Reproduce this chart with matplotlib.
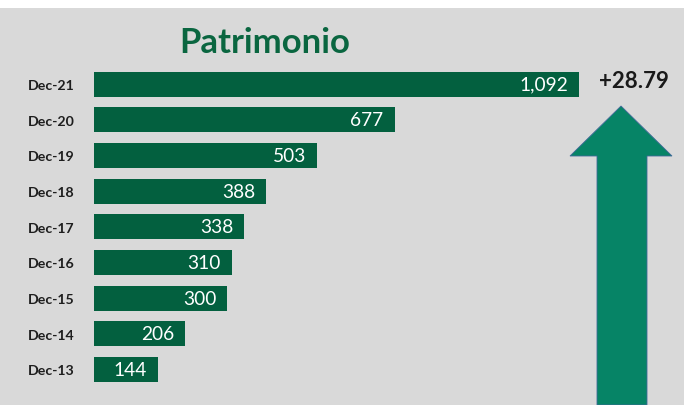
import matplotlib
matplotlib.use('Agg')
import matplotlib.pyplot as plt
import numpy as np
from matplotlib.patches import Rectangle, Polygon

plt.rcParams['font.family'] = ['Lato', 'DejaVu Sans']

# data (top to bottom)
periods = ["Dec-21", "Dec-20", "Dec-19", "Dec-18", "Dec-17", "Dec-16", "Dec-15", "Dec-14", "Dec-13"]
values = [1092, 677, 503, 388, 338, 310, 300, 206, 144]
growth_label = "+28.79"
title = "Patrimonio"

BG = '#d9d9d9'
BAR = '#03603f'
ARROW = '#068466'

W, H = 684, 406
fig = plt.figure(figsize=(W / 100, H / 100), dpi=100, facecolor='white')
fig.patches.append(Rectangle((0, 0), 1, 397 / H, transform=fig.transFigure,
                             facecolor=BG, edgecolor='none', zorder=-5))

ax = fig.add_axes([94 / W, (H - 388.3) / H, 485 / W, 321 / H])
ax.set_zorder(2)
ax.set_facecolor('none')
y = np.arange(len(values))
bars = ax.barh(y, values, height=0.7, color=BAR)
ax.set_xlim(0, max(values))
ax.set_ylim(len(values) - 0.5, -0.5)
ax.set_yticks(y, periods, fontsize=10.2, fontweight='bold', color='#1e1e1e')
ax.tick_params(axis='y', length=0, pad=14)
ax.set_xticks([])
for s in ax.spines.values():
    s.set_visible(False)

for bar, v in zip(bars, values):
    ax.annotate(f"{v:,}", (bar.get_width(), bar.get_y() + bar.get_height() / 2),
                xytext=(-8, 0), textcoords='offset points', ha='right', va='center',
                color='white', fontsize=13.8)

fig.text(265 / W, 1 - 43 / H, title, ha='center', va='center', fontsize=25,
         fontweight='bold', color='#0a6640')
fig.text(634 / W, 1 - 82 / H, growth_label, ha='center', va='center', fontsize=16,
         fontweight='bold', color='#1a1a1a')

# growth arrow
pts = [(597, 406), (597, 157), (570, 157), (621, 107), (672, 157), (647, 157), (647, 406)]
arrow = Polygon([(px / W, 1 - py / H) for px, py in pts], closed=True,
                transform=fig.transFigure, facecolor=ARROW, edgecolor='#41699a',
                linewidth=0.6, zorder=3)
fig.patches.append(arrow)

fig.savefig('out.png', dpi=100, facecolor=fig.get_facecolor())
